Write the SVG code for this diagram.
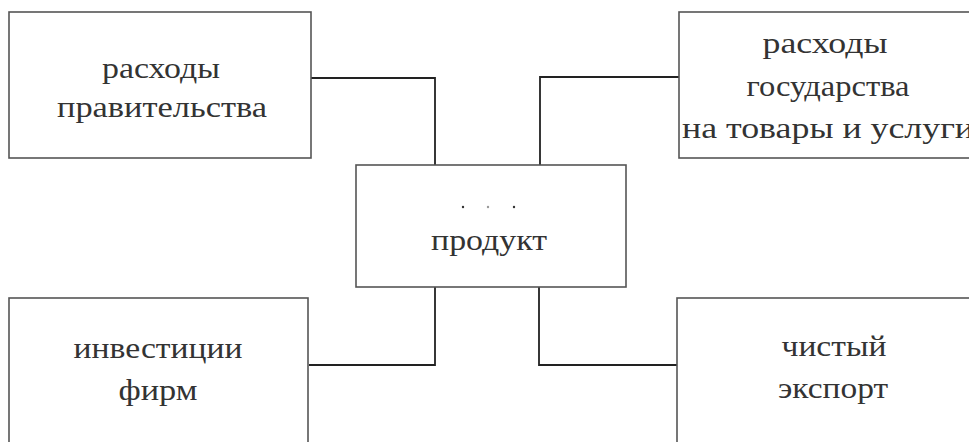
<svg xmlns="http://www.w3.org/2000/svg" width="969" height="442" viewBox="0 0 969 442">
<style>
.box{fill:#fff;stroke:#555;stroke-width:1.6}
.con{fill:none;stroke:#222;stroke-width:1.8}
.t{font-family:"Liberation Serif","Times New Roman",serif;font-size:30px;fill:#333;text-anchor:middle}
</style>
<rect width="969" height="442" fill="#fff"/>
<g id="connectors">
<polyline class="con" points="311,78 435,78 435,165"/>
<polyline class="con" points="679,77 540,77 540,165"/>
<polyline class="con" points="309,365 435,365 435,287"/>
<polyline class="con" points="677,365 539,365 539,287"/>
</g>
<g id="n1">
<rect class="box" x="9" y="12" width="302" height="146"/>
<text class="t" x="161" y="78" textLength="118" lengthAdjust="spacingAndGlyphs">расходы</text>
<text class="t" x="162" y="117" textLength="210" lengthAdjust="spacingAndGlyphs">правительства</text>
</g>
<g id="n2">
<rect class="box" x="679" y="12" width="300" height="146"/>
<text class="t" x="825" y="53" textLength="125" lengthAdjust="spacingAndGlyphs">расходы</text>
<text class="t" x="828" y="96" textLength="163" lengthAdjust="spacingAndGlyphs">государства</text>
<text class="t" x="828" y="138" textLength="292" lengthAdjust="spacingAndGlyphs">на товары и услуги</text>
</g>
<g id="n3">
<rect class="box" x="356" y="165" width="270" height="122"/>
<circle cx="463" cy="207" r="1.2" fill="#333"/>
<circle cx="488" cy="207" r="1.2" fill="#999"/>
<circle cx="514" cy="207" r="1.2" fill="#333"/>
<text class="t" x="489" y="250" textLength="116" lengthAdjust="spacingAndGlyphs">продукт</text>
</g>
<g id="n4">
<rect class="box" x="9" y="298" width="299" height="160"/>
<text class="t" x="158" y="358" textLength="169" lengthAdjust="spacingAndGlyphs">инвестиции</text>
<text class="t" x="158" y="400" textLength="79" lengthAdjust="spacingAndGlyphs">фирм</text>
</g>
<g id="n5">
<rect class="box" x="677" y="298" width="300" height="160"/>
<text class="t" x="834" y="356" textLength="105" lengthAdjust="spacingAndGlyphs">чистый</text>
<text class="t" x="833" y="398" textLength="110" lengthAdjust="spacingAndGlyphs">экспорт</text>
</g>
</svg>
